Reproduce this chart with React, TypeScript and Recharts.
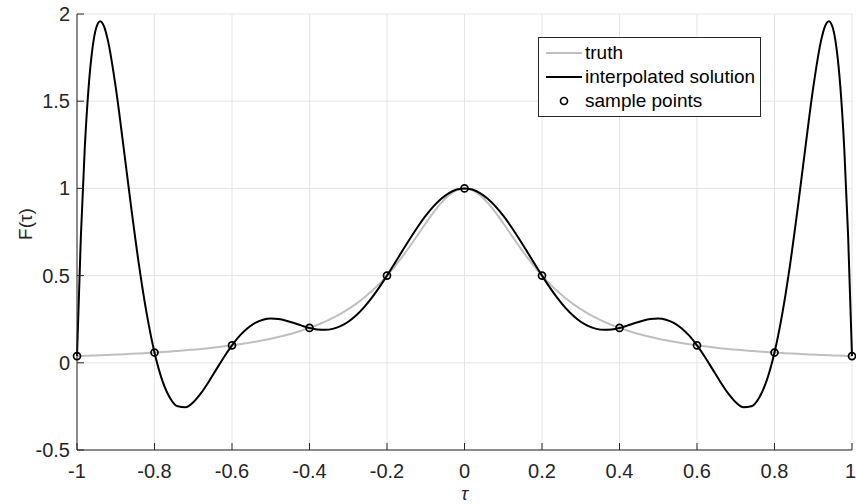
import React from 'react';
import {
  ComposedChart,
  Line,
  Scatter,
  XAxis,
  YAxis,
  CartesianGrid,
  Legend,
} from 'recharts';

// tau grid (denser near the steep ends)
const tau = [
  -1, -0.99, -0.98, -0.97, -0.96, -0.95, -0.94, -0.93, -0.92, -0.9, -0.88, -0.86, -0.84, -0.82,
  -0.8, -0.78, -0.76, -0.74, -0.72, -0.7, -0.68, -0.66, -0.64, -0.62, -0.6, -0.58, -0.56, -0.54,
  -0.52, -0.5, -0.48, -0.46, -0.44, -0.42, -0.4, -0.38, -0.36, -0.34, -0.32, -0.3, -0.28, -0.26,
  -0.24, -0.22, -0.2, -0.18, -0.16, -0.14, -0.12, -0.1, -0.08, -0.06, -0.04, -0.02,
  0,
  0.02, 0.04, 0.06, 0.08, 0.1, 0.12, 0.14, 0.16, 0.18, 0.2, 0.22, 0.24, 0.26, 0.28, 0.3, 0.32,
  0.34, 0.36, 0.38, 0.4, 0.42, 0.44, 0.46, 0.48, 0.5, 0.52, 0.54, 0.56, 0.58, 0.6, 0.62, 0.64,
  0.66, 0.68, 0.7, 0.72, 0.74, 0.76, 0.78, 0.8, 0.82, 0.84, 0.86, 0.88, 0.9, 0.92, 0.93, 0.94,
  0.95, 0.96, 0.97, 0.98, 0.99, 1,
];

const truth = [
  0.0385, 0.0392, 0.04, 0.0408, 0.0416, 0.0424, 0.0433, 0.0442, 0.0451, 0.0471, 0.0491, 0.0513,
  0.0536, 0.0561, 0.0588, 0.0617, 0.0648, 0.0681, 0.0716, 0.0755, 0.0796, 0.0841, 0.089, 0.0943,
  0.1, 0.1063, 0.1131, 0.1206, 0.1289, 0.1379, 0.1479, 0.159, 0.1712, 0.1848, 0.2, 0.2169, 0.2358,
  0.2571, 0.2809, 0.3077, 0.3378, 0.3717, 0.4098, 0.4525, 0.5, 0.5525, 0.6098, 0.6711, 0.7353, 0.8,
  0.8621, 0.9174, 0.9615, 0.9901,
  1,
  0.9901, 0.9615, 0.9174, 0.8621, 0.8, 0.7353, 0.6711, 0.6098, 0.5525, 0.5, 0.4525, 0.4098, 0.3717,
  0.3378, 0.3077, 0.2809, 0.2571, 0.2358, 0.2169, 0.2, 0.1848, 0.1712, 0.159, 0.1479, 0.1379, 0.1289,
  0.1206, 0.1131, 0.1063, 0.1, 0.0943, 0.089, 0.0841, 0.0796, 0.0755, 0.0716, 0.0681, 0.0648, 0.0617,
  0.0588, 0.0561, 0.0536, 0.0513, 0.0491, 0.0471, 0.0451, 0.0442, 0.0433, 0.0424, 0.0416, 0.0408,
  0.04, 0.0392, 0.0385,
];

const interpolated = [
  0.0385, 0.7261, 1.2303, 1.581, 1.8043, 1.9236, 1.959, 1.9279, 1.8459, 1.5787, 1.2402, 0.8881,
  0.5604, 0.2802, 0.0588, -0.1007, -0.2013, -0.2496, -0.2546, -0.2262, -0.1743, -0.1083, -0.0363,
  0.0349, 0.1, 0.1554, 0.1987, 0.2292, 0.2472, 0.2538, 0.251, 0.2415, 0.2278, 0.2131, 0.2, 0.1912,
  0.1888, 0.1946, 0.2099, 0.2354, 0.271, 0.3165, 0.3708, 0.4326, 0.5, 0.571, 0.6432, 0.7142, 0.7818,
  0.8434, 0.8971, 0.9409, 0.9734, 0.9933,
  1,
  0.9933, 0.9734, 0.9409, 0.8971, 0.8434, 0.7818, 0.7142, 0.6432, 0.571, 0.5, 0.4326, 0.3708, 0.3165,
  0.271, 0.2354, 0.2099, 0.1946, 0.1888, 0.1912, 0.2, 0.2131, 0.2278, 0.2415, 0.251, 0.2538, 0.2472,
  0.2292, 0.1987, 0.1554, 0.1, 0.0349, -0.0363, -0.1083, -0.1743, -0.2262, -0.2546, -0.2496, -0.2013,
  -0.1007, 0.0588, 0.2802, 0.5604, 0.8881, 1.2402, 1.5787, 1.8459, 1.9279, 1.959, 1.9236, 1.8043,
  1.581, 1.2303, 0.7261, 0.0385,
];

const sampleTau = [-1, -0.8, -0.6, -0.4, -0.2, 0, 0.2, 0.4, 0.6, 0.8, 1];
const sampleF = [0.0385, 0.0588, 0.1, 0.2, 0.5, 1, 0.5, 0.2, 0.1, 0.0588, 0.0385];

const xTicks = [-1, -0.8, -0.6, -0.4, -0.2, 0, 0.2, 0.4, 0.6, 0.8, 1];
const yTicks = [-0.5, 0, 0.5, 1, 1.5, 2];

const legendNames = ['truth', 'interpolated solution', 'sample points'];

const curveData = tau.map((t, i) => ({ tau: t, truth: truth[i], interp: interpolated[i] }));
const sampleData = sampleTau.map((t, i) => ({ tau: t, sample: sampleF[i] }));

const FONT = '"Liberation Sans", Arial, Helvetica, sans-serif';
const AXIS = '#262626';
const TRUTH = '#bfbfbf';

const XTick = (props: any) => {
  const { x, y, payload, index } = props;
  // last label sits against the right edge, keep it inside the picture
  const last = index === xTicks.length - 1;
  return (
    <g>
      <line x1={x} y1={y} x2={x} y2={y - 7} stroke={AXIS} strokeWidth={1} />
      <text
        x={last ? x + 4 : x}
        y={y + 28}
        textAnchor={last ? 'end' : 'middle'}
        fill={AXIS}
        fontSize={20}
        fontFamily={FONT}
      >
        {payload.value}
      </text>
    </g>
  );
};

const YTick = (props: any) => {
  const { x, y, payload } = props;
  return (
    <g>
      <line x1={x} y1={y} x2={x + 7} y2={y} stroke={AXIS} strokeWidth={1} />
      <text x={x - 7} y={y + 7} textAnchor="end" fill={AXIS} fontSize={20} fontFamily={FONT}>
        {payload.value}
      </text>
    </g>
  );
};

const SampleDot = (props: any) => (
  <circle cx={props.cx} cy={props.cy} r={3.5} fill="none" stroke="#000" strokeWidth={1.7} />
);

const LegendBox = () => (
  <div
    style={{
      border: `1px solid ${AXIS}`,
      background: '#fff',
      padding: '3px 5px 3px 7px',
      fontFamily: FONT,
      fontSize: 19,
      color: '#000',
      lineHeight: '24px',
    }}
  >
    {legendNames.map((name, i) => (
      <div key={name} style={{ display: 'flex', alignItems: 'center', whiteSpace: 'nowrap' }}>
        <svg width={36} height={24} style={{ marginRight: 3 }}>
          {i === 0 && <line x1={0} y1={12} x2={36} y2={12} stroke={TRUTH} strokeWidth={2} />}
          {i === 1 && <line x1={0} y1={12} x2={36} y2={12} stroke="#000" strokeWidth={2} />}
          {i === 2 && <circle cx={18} cy={12} r={3.5} fill="none" stroke="#000" strokeWidth={1.7} />}
        </svg>
        <span>{name}</span>
      </div>
    ))}
  </div>
);

export default function App() {
  return (
    <div style={{ position: 'absolute', left: 0, top: 0, background: '#fff' }}>
      <ComposedChart
        width={856}
        height={504}
        data={curveData}
        margin={{ top: 14, right: 4, bottom: 24, left: 17 }}
      >
        <CartesianGrid stroke="#e5e5e5" strokeWidth={1} />
        <XAxis
          dataKey="tau"
          type="number"
          domain={[-1, 1]}
          ticks={xTicks}
          interval={0}
          height={30}
          tickSize={0}
          tickMargin={0}
          tickLine={false}
          axisLine={{ stroke: AXIS, strokeWidth: 1 }}
          tick={<XTick />}
          label={{
            value: 'τ',
            position: 'bottom',
            offset: 7,
            fill: AXIS,
            fontSize: 18,
            fontStyle: 'italic',
            fontFamily: FONT,
          }}
        />
        <YAxis
          type="number"
          domain={[-0.5, 2]}
          ticks={yTicks}
          interval={0}
          width={60}
          tickSize={0}
          tickMargin={0}
          tickLine={false}
          axisLine={{ stroke: AXIS, strokeWidth: 1 }}
          tick={<YTick />}
          label={{
            value: 'F(τ)',
            angle: -90,
            position: 'insideLeft',
            offset: 8,
            dy: -8,
            fill: AXIS,
            fontSize: 19,
            fontFamily: FONT,
            style: { textAnchor: 'middle' },
          }}
        />
        <Legend
          verticalAlign="middle"
          layout="horizontal"
          wrapperStyle={{ left: 538, top: 37, width: 'auto', height: 'auto' }}
          content={<LegendBox />}
        />
        <Line
          type="monotone"
          dataKey="truth"
          stroke={TRUTH}
          strokeWidth={2}
          dot={false}
          activeDot={false}
          isAnimationActive={false}
        />
        <Line
          type="monotone"
          dataKey="interp"
          stroke="#000"
          strokeWidth={2}
          dot={false}
          activeDot={false}
          isAnimationActive={false}
        />
        <Scatter
          data={sampleData}
          dataKey="sample"
          shape={<SampleDot />}
          isAnimationActive={false}
        />
      </ComposedChart>
    </div>
  );
}
